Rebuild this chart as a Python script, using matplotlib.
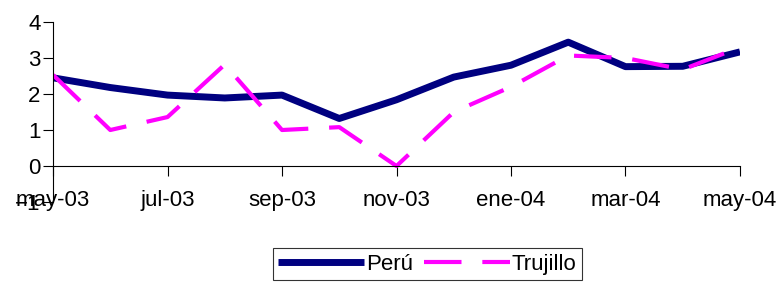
import matplotlib
matplotlib.use('Agg')
import numpy as np
import matplotlib.pyplot as plt

# monthly data, may-03 .. may-04
months = ['may-03', 'jun-03', 'jul-03', 'ago-03', 'sep-03', 'oct-03', 'nov-03',
          'dic-03', 'ene-04', 'feb-04', 'mar-04', 'abr-04', 'may-04']
peru = [2.45, 2.18, 1.97, 1.89, 1.97, 1.32, 1.84, 2.47, 2.8, 3.44, 2.76, 2.77, 3.17]
trujillo = [2.53, 1.0, 1.36, 2.82, 1.0, 1.08, 0.0, 1.5, 2.2, 3.07, 3.0, 2.68, 3.3]
yticks = [-1, 0, 1, 2, 3, 4]

plt.rcParams['font.family'] = ['Liberation Sans', 'DejaVu Sans']

fig = plt.figure(figsize=(7.8, 2.84), dpi=100)
ax = fig.add_axes([0.068, 0.2887, 0.8807, 0.6338])

x = np.arange(len(months))
ax.plot(x, peru, color='#000080', lw=5, solid_capstyle='butt', label='Perú')
ax.plot(x, trujillo, color='#ff00ff', lw=3, dashes=(9, 5), label='Trujillo')

ax.set_xlim(0, len(months) - 1)
ax.set_ylim(-1, 4)
ax.set_yticks(yticks)
ax.set_xticks(x[::2])
ax.set_xticklabels(months[::2])

ax.spines['top'].set_visible(False)
ax.spines['right'].set_visible(False)
ax.spines['bottom'].set_position(('data', 0))
for s in ['left', 'bottom']:
    ax.spines[s].set_linewidth(0.8)
ax.tick_params(axis='y', direction='out', length=7, width=0.8, labelsize=16, pad=2)
ax.tick_params(axis='x', direction='out', length=7, width=0.8, labelsize=16, pad=10)

leg = ax.legend(loc='upper center', bbox_to_anchor=(0.548, 1 - 248 / 284), bbox_transform=fig.transFigure,
                ncol=2, frameon=True, fancybox=False, edgecolor='black', fontsize=16,
                handlelength=3.85, handletextpad=0.1, columnspacing=0.5,
                borderpad=0.25, borderaxespad=0)
leg.get_frame().set_linewidth(0.8)

fig.savefig('out.png', dpi=100)
